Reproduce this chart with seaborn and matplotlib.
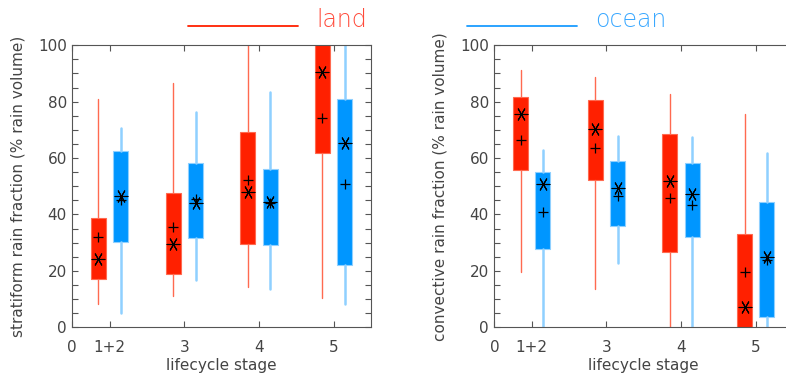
import numpy as np
import matplotlib
matplotlib.use("Agg")
import matplotlib.pyplot as plt
from matplotlib.lines import Line2D
from matplotlib.ticker import MultipleLocator
import seaborn as sns

# lifecycle stages
stages = ['1+2', '3', '4', '5']

# stratiform fraction, land
st_land_lo = [8.2, 10.9, 14.4, 10.3]
st_land_q1 = [17.0, 18.8, 29.5, 61.9]
st_land_q3 = [38.9, 47.5, 69.3, 105.0]
st_land_hi = [80.9, 86.5, 105.0, 110.0]
st_land_plus = [32.1, 35.7, 52.2, 74.3]
st_land_star = [24.2, 29.4, 47.9, 90.6]

# stratiform fraction, ocean
st_ocean_lo = [5.0, 16.8, 13.5, 8.3]
st_ocean_q1 = [30.1, 31.8, 29.1, 22.2]
st_ocean_q3 = [62.5, 58.4, 56.0, 81.0]
st_ocean_hi = [70.6, 76.5, 83.5, 105.0]
st_ocean_plus = [45.0, 45.4, 44.0, 50.8]
st_ocean_star = [46.6, 44.2, 44.3, 65.5]

# convective fraction, land
cv_land_lo = [19.5, 13.5, -5.0, -5.0]
cv_land_q1 = [55.8, 52.2, 26.6, -5.0]
cv_land_q3 = [81.8, 80.5, 68.4, 33.1]
cv_land_hi = [91.2, 88.7, 82.7, 75.6]
cv_land_plus = [66.4, 63.5, 45.7, 19.5]
cv_land_star = [75.6, 70.2, 51.9, 7.1]

# convective fraction, ocean
cv_ocean_lo = [-5.0, 22.7, -5.0, -5.0]
cv_ocean_q1 = [27.8, 36.0, 31.9, 3.5]
cv_ocean_q3 = [55.2, 59.0, 58.2, 44.5]
cv_ocean_hi = [62.9, 67.9, 67.4, 61.7]
cv_ocean_plus = [41.0, 46.6, 43.4, 24.0]
cv_ocean_star = [50.8, 49.3, 47.3, 25.0]

LAND = '#ff2000'
LAND_W = '#ff6a50'
OCEAN = '#0096ff'
OCEAN_W = '#8fd0ff'
TXT = '#444444'

sns.set_style('white')
plt.rcParams['font.family'] = ['DejaVu Sans']
plt.rcParams['font.size'] = 11

fig = plt.figure(figsize=(7.86, 3.77), dpi=100)
ax1 = fig.add_axes([0.092, 0.132, 0.380, 0.748])
ax2 = fig.add_axes([0.629, 0.132, 0.380, 0.748])

centers = np.arange(len(stages)) + 0.5


def draw_boxes(ax, lo, q1, q3, hi, plus, star, pos, face, wcol, wlw):
    stats = []
    for i in range(len(lo)):
        stats.append({'whislo': lo[i], 'q1': q1[i], 'med': plus[i],
                      'q3': q3[i], 'whishi': hi[i], 'fliers': []})
    ax.bxp(stats, positions=pos, widths=0.2, showcaps=False,
           showfliers=False, patch_artist=True, manage_ticks=False,
           boxprops=dict(facecolor=face, edgecolor=wcol, linewidth=0.8),
           whiskerprops=dict(color=wcol, linewidth=wlw),
           medianprops=dict(linewidth=0, alpha=0))
    sns.scatterplot(x=pos, y=plus, marker='+', s=60, color='black',
                    linewidth=0.9, ax=ax, zorder=5, legend=False)
    sns.scatterplot(x=pos, y=star, marker=(6, 2, 90), s=85,
                    color='black', edgecolor='black', linewidth=0.8,
                    ax=ax, zorder=5, legend=False)
    sns.scatterplot(x=pos, y=star, marker='o', s=5, color='black',
                    linewidth=0, ax=ax, zorder=6, legend=False)


draw_boxes(ax1, st_land_lo, st_land_q1, st_land_q3, st_land_hi,
           st_land_plus, st_land_star, centers - 0.15, LAND, LAND_W, 1.0)
draw_boxes(ax1, st_ocean_lo, st_ocean_q1, st_ocean_q3, st_ocean_hi,
           st_ocean_plus, st_ocean_star, centers + 0.15, OCEAN, OCEAN_W, 1.8)
draw_boxes(ax2, cv_land_lo, cv_land_q1, cv_land_q3, cv_land_hi,
           cv_land_plus, cv_land_star, centers - 0.15, LAND, LAND_W, 1.0)
draw_boxes(ax2, cv_ocean_lo, cv_ocean_q1, cv_ocean_q3, cv_ocean_hi,
           cv_ocean_plus, cv_ocean_star, centers + 0.15, OCEAN, OCEAN_W, 1.8)

ylabels = ['stratiform rain fraction (% rain volume)',
           'convective rain fraction (% rain volume)']
for ax, yl in zip([ax1, ax2], ylabels):
    ax.set_xlim(0, 4)
    ax.set_ylim(0, 100)
    ax.set_xticks([0] + list(centers))
    ax.set_xticklabels(['0'] + stages)
    ax.yaxis.set_major_locator(MultipleLocator(20))
    ax.yaxis.set_minor_locator(MultipleLocator(5))
    ax.tick_params(axis='both', which='both', direction='in', length=4.5,
                   width=0.8, color='#555555', labelcolor=TXT,
                   labelsize=11, top=True, right=True, bottom=True,
                   left=True)
    ax.tick_params(axis='x', pad=9)
    ax.tick_params(axis='y', pad=4)
    for sp in ax.spines.values():
        sp.set_color('#555555')
        sp.set_linewidth(0.8)
        sp.set_visible(True)
    ax.set_xlabel('lifecycle stage', color=TXT, fontsize=11, labelpad=2)
    ax.set_ylabel(yl, color=TXT, fontsize=11, labelpad=9)

# legend drawn at the top of the figure
fig.add_artist(Line2D([0.239, 0.379], [0.931, 0.931], color=LAND,
                      linewidth=1.3, transform=fig.transFigure))
fig.text(0.402, 0.928, 'land', color='#ff4a3a', fontsize=17,
         fontweight='light', va='baseline')
fig.add_artist(Line2D([0.594, 0.734], [0.931, 0.931], color='#1a9cff',
                      linewidth=1.3, transform=fig.transFigure))
fig.text(0.757, 0.928, 'ocean', color='#3aa8ff', fontsize=17,
         fontweight='light', va='baseline')

fig.savefig('out.png', dpi=100)
